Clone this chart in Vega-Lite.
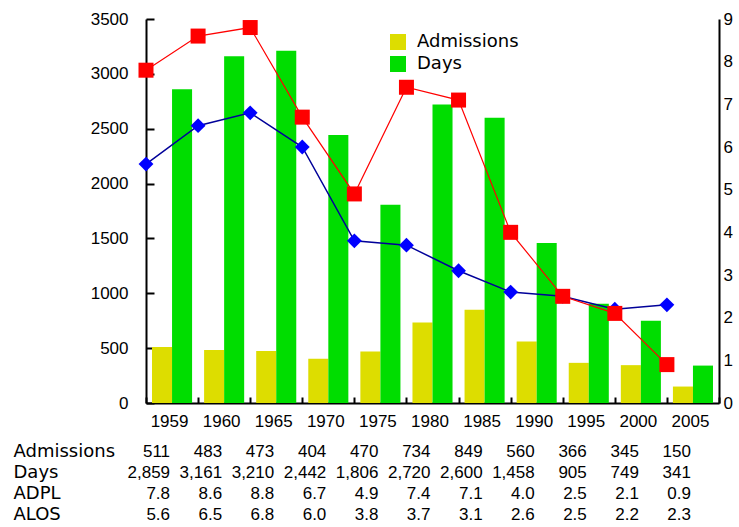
{
  "$schema": "https://vega.github.io/schema/vega-lite/v6.json",
  "background": "white",
  "padding": {"left": 13, "top": 10, "right": 5, "bottom": 0},
  "datasets": {
    "main": [
      {"year": "1959", "Admissions": 511, "Days": 2859, "ADPL": 7.8, "ALOS": 5.6},
      {"year": "1960", "Admissions": 483, "Days": 3161, "ADPL": 8.6, "ALOS": 6.5},
      {"year": "1965", "Admissions": 473, "Days": 3210, "ADPL": 8.8, "ALOS": 6.8},
      {"year": "1970", "Admissions": 404, "Days": 2442, "ADPL": 6.7, "ALOS": 6.0},
      {"year": "1975", "Admissions": 470, "Days": 1806, "ADPL": 4.9, "ALOS": 3.8},
      {"year": "1980", "Admissions": 734, "Days": 2720, "ADPL": 7.4, "ALOS": 3.7},
      {"year": "1985", "Admissions": 849, "Days": 2600, "ADPL": 7.1, "ALOS": 3.1},
      {"year": "1990", "Admissions": 560, "Days": 1458, "ADPL": 4.0, "ALOS": 2.6},
      {"year": "1995", "Admissions": 366, "Days": 905, "ADPL": 2.5, "ALOS": 2.5},
      {"year": "2000", "Admissions": 345, "Days": 749, "ADPL": 2.1, "ALOS": 2.2},
      {"year": "2005", "Admissions": 150, "Days": 341, "ADPL": 0.9, "ALOS": 2.3}
    ]
  },
  "config": {"view": {"stroke": null}},
  "spacing": 12,
  "vconcat": [
    {
      "width": 573,
      "height": 384,
      "data": {"name": "main"},
      "layer": [
        {
          "transform": [{"fold": ["Admissions", "Days"], "as": ["series", "value"]}],
          "mark": {"type": "bar"},
          "encoding": {
            "x": {
              "field": "year", "type": "nominal",
              "scale": {"paddingInner": 0, "paddingOuter": 0},
              "axis": {"title": null, "labelAngle": 0, "tickBand": "extent", "tickSize": -6, "tickWidth": 2, "tickColor": "black", "domainColor": "black", "domainWidth": 2, "labelPadding": 16, "labelFont": "Liberation Sans", "labelFontSize": 17, "labelColor": "black", "labelOffset": -3}
            },
            "xOffset": {"field": "series", "type": "nominal", "scale": {"domain": ["Admissions", "Days"], "paddingInner": 0, "paddingOuter": 0.3}},
            "y": {
              "field": "value", "type": "quantitative",
              "scale": {"domain": [0, 3500], "nice": false},
              "axis": {"title": null, "format": "d", "values": [0, 500, 1000, 1500, 2000, 2500, 3000, 3500], "grid": false, "tickSize": -8, "tickWidth": 2, "tickColor": "black", "domainColor": "black", "domainWidth": 2, "labelPadding": 26, "labelFont": "Liberation Sans", "labelFontSize": 17, "labelColor": "black"}
            },
            "color": {
              "field": "series", "type": "nominal",
              "scale": {"domain": ["Admissions", "Days"], "range": ["#dddd00", "#00dd00"]},
              "legend": {"title": null, "orient": "none", "legendX": 243, "legendY": 14, "symbolType": "square", "symbolSize": 256, "symbolStrokeWidth": 0, "labelFont": "DejaVu Sans", "labelFontSize": 18, "labelColor": "black", "labelOffset": 10, "rowPadding": 4, "padding": 0}
            }
          }
        },
        {
          "layer": [
            {
              "mark": {"type": "line", "color": "#000099", "strokeWidth": 1.5},
              "encoding": {
                "x": {"field": "year", "type": "nominal", "bandPosition": 0},
                "y": {"field": "ALOS", "type": "quantitative", "scale": {"domain": [0, 9], "nice": false},
                  "axis": {"orient": "right", "title": null, "values": [0, 1, 2, 3, 4, 5, 6, 7, 8, 9], "grid": false, "ticks": false, "domainColor": "black", "domainWidth": 2, "labelPadding": 4, "labelFont": "Liberation Sans", "labelFontSize": 17, "labelColor": "black"}}
              }
            },
            {
              "mark": {"type": "point", "shape": "diamond", "filled": true, "color": "#0000ff", "size": 220, "opacity": 1},
              "encoding": {
                "x": {"field": "year", "type": "nominal", "bandPosition": 0},
                "y": {"field": "ALOS", "type": "quantitative", "scale": {"domain": [0, 9], "nice": false},
                  "axis": {"orient": "right", "title": null, "values": [0, 1, 2, 3, 4, 5, 6, 7, 8, 9], "grid": false, "ticks": false, "domainColor": "black", "domainWidth": 2, "labelPadding": 4, "labelFont": "Liberation Sans", "labelFontSize": 17, "labelColor": "black"}}
              }
            },
            {
              "mark": {"type": "line", "color": "#ff0000", "strokeWidth": 1.2},
              "encoding": {
                "x": {"field": "year", "type": "nominal", "bandPosition": 0},
                "y": {"field": "ADPL", "type": "quantitative", "scale": {"domain": [0, 9], "nice": false},
                  "axis": {"orient": "right", "title": null, "values": [0, 1, 2, 3, 4, 5, 6, 7, 8, 9], "grid": false, "ticks": false, "domainColor": "black", "domainWidth": 2, "labelPadding": 4, "labelFont": "Liberation Sans", "labelFontSize": 17, "labelColor": "black"}}
              }
            },
            {
              "mark": {"type": "point", "shape": "square", "filled": true, "color": "#ff0000", "size": 225, "opacity": 1},
              "encoding": {
                "x": {"field": "year", "type": "nominal", "bandPosition": 0},
                "y": {"field": "ADPL", "type": "quantitative", "scale": {"domain": [0, 9], "nice": false},
                  "axis": {"orient": "right", "title": null, "values": [0, 1, 2, 3, 4, 5, 6, 7, 8, 9], "grid": false, "ticks": false, "domainColor": "black", "domainWidth": 2, "labelPadding": 4, "labelFont": "Liberation Sans", "labelFontSize": 17, "labelColor": "black"}}
              }
            }
          ]
        }
      ],
      "resolve": {"scale": {"y": "independent"}}
    },
    {
      "width": 573,
      "height": 84,
      "data": {"name": "main"},
      "transform": [{"fold": ["Admissions", "Days", "ADPL", "ALOS"], "as": ["metric", "value"]}],
      "encoding": {
        "y": {
          "field": "metric", "type": "nominal", "sort": ["Admissions", "Days", "ADPL", "ALOS"],
          "scale": {"paddingInner": 0, "paddingOuter": 0},
          "axis": {"title": null, "domain": false, "ticks": false, "labelAlign": "left", "labelPadding": 133, "labelFont": "DejaVu Sans", "labelFontSize": 18, "labelColor": "black"}
        }
      },
      "layer": [
        {
          "transform": [{"filter": {"field": "metric", "oneOf": ["Admissions", "Days"]}}],
          "mark": {"type": "text", "align": "right", "baseline": "middle", "font": "Liberation Sans", "fontSize": 17, "color": "black", "dx": -2},
          "encoding": {
            "x": {"field": "year", "type": "nominal", "bandPosition": 1, "scale": {"paddingInner": 0, "paddingOuter": 0}, "axis": null},
            "text": {"field": "value", "type": "quantitative", "format": ","}
          }
        },
        {
          "transform": [{"filter": {"field": "metric", "oneOf": ["ADPL", "ALOS"]}}],
          "mark": {"type": "text", "align": "right", "baseline": "middle", "font": "Liberation Sans", "fontSize": 17, "color": "black", "dx": -2},
          "encoding": {
            "x": {"field": "year", "type": "nominal", "bandPosition": 1, "scale": {"paddingInner": 0, "paddingOuter": 0}, "axis": null},
            "text": {"field": "value", "type": "quantitative", "format": ".1f"}
          }
        }
      ]
    }
  ]
}
